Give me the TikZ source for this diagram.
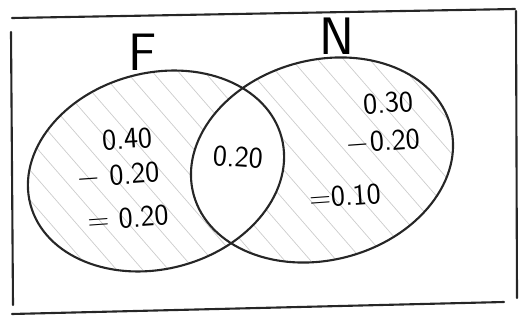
\documentclass[tikz,border=0pt]{standalone}
\usepackage{tikz}
\usetikzlibrary{positioning}

\tikzset{
  pen/.style={line width=1.2pt, black!85, line cap=round},
  hatch/.style={gray!40, line width=0.4pt},
  setlabel/.style={font=\sffamily\fontsize{30}{32}\selectfont, inner sep=0pt},
  value/.style={font=\sffamily\fontsize{17}{19}\selectfont, inner sep=0pt, rotate=4}
}

\begin{document}
\begin{tikzpicture}[x=0.02cm, y=-0.02cm]
\useasboundingbox (0,0) rectangle (520,320);
% frame
\draw[pen] (12,18) -- (515,9);
\draw[pen] (11,32) -- (13,305);
\draw[pen] (516,11) -- (517,298);
\draw[pen] (12,314) -- (504,302);
% hatching in F and N
\begin{scope}
  \clip[rotate around={15:(156,171)}] (156,171) ellipse [x radius=2.6cm, y radius=1.96cm];
  \foreach \s in {-300,-274,...,420} {
    \draw[hatch] (\s,0) -- ++(300,345);
  }
\end{scope}
\begin{scope}
  \clip[rotate around={15:(322,160)}] (322,160) ellipse [x radius=2.66cm, y radius=2.0cm];
  \foreach \s in {-150,-124,...,560} {
    \draw[hatch] (\s,0) -- ++(300,345);
  }
\end{scope}
% blank overlap
\begin{scope}
  \clip[rotate around={15:(156,171)}] (156,171) ellipse [x radius=2.6cm, y radius=1.96cm];
  \fill[white, rotate around={15:(322,160)}] (322,160) ellipse [x radius=2.66cm, y radius=2.0cm];
\end{scope}
% the two sets
\draw[pen, rotate around={15:(156,171)}] (156,171) ellipse [x radius=2.6cm, y radius=1.96cm];
\draw[pen, rotate around={15:(322,160)}] (322,160) ellipse [x radius=2.66cm, y radius=2.0cm];
\node[setlabel] (labF) at (143,52) {F};
\node[setlabel] (labN) at (337,36) {N};
% F only
\node[value] (fa) at (127,139) {0.40};
\node[value] (fb) at (118,176) {$-$ 0.20};
\node[value] (fc) at (128,218) {= 0.20};
% both
\node[value, rotate=-8] (fn) at (238,157) {0.20};
% N only
\node[value] (na) at (388,103) {0.30};
\node[value] (nb) at (383,142) {$-$0.20};
\node[value] (nc) at (345,196) {=0.10};
\end{tikzpicture}
\end{document}
